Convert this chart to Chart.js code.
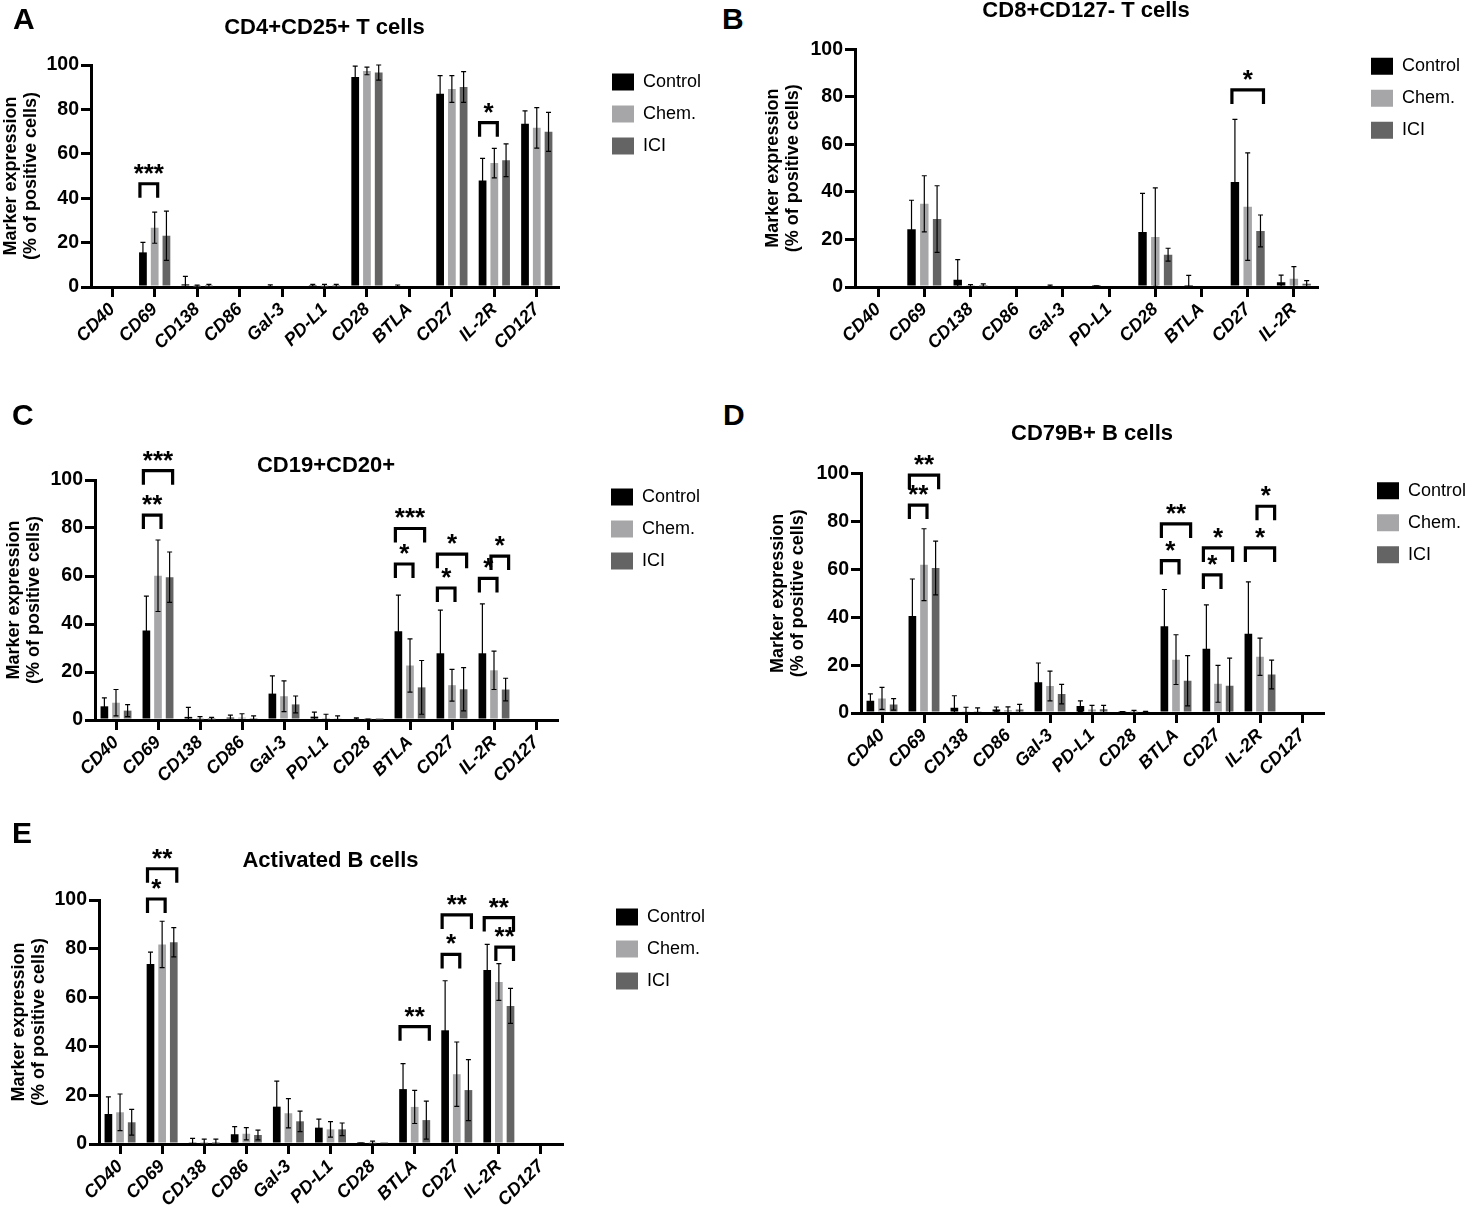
<!DOCTYPE html>
<html><head><meta charset="utf-8">
<script src="https://cdn.jsdelivr.net/npm/chart.js@4.4.1/dist/chart.umd.min.js"></script>
<style>
html,body{margin:0;padding:0;background:#fff;width:1476px;height:1209px;overflow:hidden;position:relative;font-family:'Liberation Sans',Arial,sans-serif;}
canvas{position:absolute;}
.lbl{position:absolute;font-weight:bold;font-size:30px;line-height:30px;color:#000;z-index:5;}
</style></head><body>
<div class="lbl" style="left:13px;top:4px">A</div>
<div class="lbl" style="left:722px;top:4px">B</div>
<div class="lbl" style="left:12px;top:400px">C</div>
<div class="lbl" style="left:723px;top:400px">D</div>
<div class="lbl" style="left:12px;top:818px">E</div>
<canvas id="cA"></canvas>
<canvas id="cB"></canvas>
<canvas id="cC"></canvas>
<canvas id="cD"></canvas>
<canvas id="cE"></canvas>
<script>
// ---------- data ----------
const seriesNames = ['Control', 'Chem.', 'ICI'];
const markers11 = ['CD40','CD69','CD138','CD86','Gal-3','PD-L1','CD28','BTLA','CD27','IL-2R','CD127'];
const markers10 = ['CD40','CD69','CD138','CD86','Gal-3','PD-L1','CD28','BTLA','CD27','IL-2R'];
const yTicks = [0, 20, 40, 60, 80, 100];

// Panel A: CD4+CD25+ T cells
const ctrlA = [0, 15.6, 1.2, 0, 0, 0.3, 94.6, 0, 87.1, 48, 73.5];
const chemA = [0, 26.7, 0.3, 0, 0, 0.3, 97.3, 0, 89.2, 55.8, 71.7];
const iciA  = [0, 23.1, 0.3, 0, 0, 0.3, 96.6, 0, 90.1, 57.1, 69.9];
const ctrlAErr = [0, 4.5, 3.6, 0, 1, 0.9, 4.9, 0.9, 8.1, 9.9, 5.8];
const chemAErr = [0, 7, 0.5, 0, 0, 0.9, 1.7, 0, 6, 6.6, 9.1];
const iciAErr  = [0, 11.1, 0.9, 0, 0, 0.9, 3.4, 0, 6.9, 7.4, 8.8];
const sigA = [['CD69','Control','Chem.',46.5,'***'], ['IL-2R','Control','Chem.',74,'*']];

// Panel B: CD8+CD127- T cells
const ctrlB = [0, 24.3, 3, 0, 0, 0.3, 23.1, 0.8, 44.2, 2];
const chemB = [0, 35, 0.4, 0, 0, 0, 21, 0, 33.8, 3.5];
const iciB  = [0, 28.6, 0.3, 0, 0, 0, 13.6, 0, 23.6, 1.4];
const ctrlBErr = [0, 12.2, 8.5, 0, 0.8, 0.2, 16.3, 4.1, 26.3, 3];
const chemBErr = [0, 11.8, 0.6, 0, 0, 0, 20.7, 0, 22.6, 5.1];
const iciBErr  = [0, 14, 1, 0, 0, 0, 2.7, 0, 6.7, 1.3];
const sigB = [['CD27','Control','ICI',82.9,'*']];

// Panel C: CD19+CD20+
const ctrlC = [5.7, 37.3, 1.3, 1, 11, 1.4, 0.6, 37, 27.8, 27.8, 0];
const chemC = [7.2, 60.1, 0.3, 1, 9.9, 0.8, 0.3, 22.7, 14.5, 20.7, 0];
const iciC  = [3.9, 59.5, 0.2, 0.8, 6.5, 0.7, 0.2, 13.6, 12.8, 12.7, 0];
const ctrlCErr = [3.5, 14.3, 4, 1, 7.4, 1.9, 0.3, 15, 18, 20.6, 0];
const chemCErr = [5.5, 14.9, 1.1, 1.6, 6.4, 1.6, 0.1, 11.1, 6.6, 8, 0];
const iciCErr  = [2.5, 10.5, 0.9, 0.9, 3.5, 1, 0, 11.2, 9, 4.7, 0];
const sigC = [
  ['CD69','Control','ICI',103.9,'***'], ['CD69','Control','Chem.',85.4,'**'],
  ['BTLA','Control','ICI',79.8,'***'], ['BTLA','Control','Chem.',65,'*'],
  ['CD27','Control','ICI',69.1,'*'], ['CD27','Control','Chem.',55,'*'],
  ['IL-2R','Control','Chem.',59,'*'], ['IL-2R','Chem.','ICI',68.3,'*']
];

// Panel D: CD79B+ B cells
const ctrlD = [5.1, 40.5, 2.2, 1.5, 12.8, 2.9, 0.3, 36.2, 26.8, 33.1, 0];
const chemD = [6.1, 62, 0.5, 1.2, 11.3, 1.5, 0.3, 22.3, 12.2, 23.5, 0];
const iciD  = [3.6, 60.6, 0.5, 1.5, 7.9, 1.6, 0.5, 13.5, 11.4, 16.1, 0];
const ctrlDErr = [2.9, 15.5, 5, 1, 8.1, 2.2, 0.3, 15.4, 18.4, 21.7, 0];
const chemDErr = [4.6, 15, 1.9, 1.4, 6.2, 1.7, 0.8, 10.4, 7.7, 7.8, 0];
const iciDErr  = [2.4, 11.2, 1.6, 2.1, 4.1, 1.6, 0.2, 10.5, 11.5, 6, 0];
const sigD = [
  ['CD69','Control','ICI',99.4,'**'], ['CD69','Control','Chem.',86.9,'**'],
  ['BTLA','Control','ICI',79,'**'], ['BTLA','Control','Chem.',63.7,'*'],
  ['CD27','Control','ICI',69,'*'], ['CD27','Control','Chem.',57.7,'*'],
  ['IL-2R','Control','ICI',69,'*'], ['IL-2R','Chem.','ICI',86.4,'*']
];

// Panel E: Activated B cells
const ctrlE = [12.3, 73.8, 0.5, 4, 15.3, 6.7, 0.3, 22.5, 46.6, 71.3, 0];
const chemE = [13, 81.8, 0.3, 4.2, 12.6, 6, 0.3, 15.2, 28.6, 66.4, 0];
const iciE  = [8.9, 82.7, 0.2, 3.7, 9.3, 6, 0.3, 9.8, 22.1, 56.6, 0];
const ctrlEErr = [7, 4.8, 1.8, 3.1, 10.5, 3.5, 0.1, 10.4, 20.3, 10.5, 0];
const chemEErr = [7.5, 9.5, 1.7, 2.5, 6, 3.2, 0.9, 6.8, 13.2, 7.5, 0];
const iciEErr  = [5.3, 6, 1.8, 2, 4.2, 2.6, 0, 7.8, 12.5, 7.2, 0];
const sigE = [
  ['CD69','Control','ICI',112.8,'**'], ['CD69','Control','Chem.',100.4,'*'],
  ['BTLA','Control','ICI',48.1,'**'],
  ['CD27','Control','ICI',93.9,'**'], ['CD27','Control','Chem.',77.7,'*'],
  ['IL-2R','Control','ICI',92.8,'**'], ['IL-2R','Chem.','ICI',80.7,'**']
];

// ---------- styles ----------
const seriesColors = ['#000000', '#a6a6a8', '#646464'];
const FONT = "'Liberation Sans', Arial, sans-serif";
const NARROW = "'Liberation Sans Narrow', 'Arial Narrow', 'Liberation Sans', Arial, sans-serif";
Chart.defaults.font.family = FONT;
Chart.defaults.color = '#000';

// ---------- plugins ----------
const legendPlace = {
  id: 'legendPlace',
  afterLayout(chart) {
    const lg = chart.legend; if (!lg) return;
    const ca = chart.chartArea;
    const pad = lg.options.labels.padding;
    const nl = ca.right + 54 - pad;
    const nt = ca.top + 17 - pad - 9;
    const w = lg.width, h = lg.height;
    lg.left = nl; lg.right = nl + w; lg.top = nt; lg.bottom = nt + h;
  }
};
function errorBarPlugin(errs) {
  return {
    id: 'errorBars',
    afterDatasetsDraw(chart) {
      const ctx = chart.ctx, y = chart.scales.y;
      ctx.save();
      ctx.strokeStyle = '#000'; ctx.lineWidth = 1.2;
      chart.data.datasets.forEach((ds, i) => {
        const meta = chart.getDatasetMeta(i);
        meta.data.forEach((bar, j) => {
          const v = ds.data[j], e = errs[i][j];
          if (!e) return;
          const yt = y.getPixelForValue(v + e);
          const yb = y.getPixelForValue(Math.max(0, v - e));
          ctx.beginPath();
          ctx.moveTo(bar.x, yt); ctx.lineTo(bar.x, yb);
          ctx.moveTo(bar.x - 2.5, yt); ctx.lineTo(bar.x + 2.5, yt);
          if (v - e > 0) { ctx.moveTo(bar.x - 2.5, yb); ctx.lineTo(bar.x + 2.5, yb); }
          ctx.stroke();
        });
      });
      ctx.restore();
    }
  };
}
function sigPlugin(sigs) {
  return {
    id: 'sigBrackets',
    afterDraw(chart) {
      const ctx = chart.ctx, y = chart.scales.y;
      ctx.save();
      ctx.strokeStyle = '#000'; ctx.fillStyle = '#000';
      ctx.lineWidth = 3.2; ctx.lineJoin = 'miter'; ctx.lineCap = 'butt';
      ctx.font = "bold 26px " + FONT;
      ctx.textAlign = 'center'; ctx.textBaseline = 'alphabetic';
      sigs.forEach(([cat, a, b, val, txt]) => {
        const j = chart.data.labels.indexOf(cat);
        const ia = seriesNames.indexOf(a), ib = seriesNames.indexOf(b);
        const xa = chart.getDatasetMeta(ia).data[j].x - 3;
        const xb = chart.getDatasetMeta(ib).data[j].x + 3;
        const yp = y.getPixelForValue(val);
        ctx.beginPath();
        ctx.moveTo(xa, yp + 14); ctx.lineTo(xa, yp); ctx.lineTo(xb, yp); ctx.lineTo(xb, yp + 14);
        ctx.stroke();
        ctx.fillText(txt, (xa + xb) / 2, yp - 2);
      });
      ctx.restore();
    }
  };
}

// ---------- layout ----------
const panels = [
  { id:'cA', x:1,   y:0,   w:707, h:367, yw:90, tp:14.8, tb:23.8, title:'CD4+CD25+ T cells', labels:markers11,
    values:[ctrlA, chemA, iciA], errors:[ctrlAErr, chemAErr, iciAErr], sigs:sigA },
  { id:'cB', x:763, y:-5,  w:704, h:372, yw:92, tp:2.8, tb:25.1, title:'CD8+CD127- T cells', labels:markers10,
    values:[ctrlB, chemB, iciB], errors:[ctrlBErr, chemBErr, iciBErr], sigs:sigB },
  { id:'cC', x:4,   y:440, w:703, h:360, yw:91, tp:12.8, tb:0.8, title:'CD19+CD20+', labels:markers11,
    values:[ctrlC, chemC, iciC], errors:[ctrlCErr, chemCErr, iciCErr], sigs:sigC },
  { id:'cD', x:768, y:410, w:705, h:383, yw:93, tp:10.8, tb:26.5, title:'CD79B+ B cells', labels:markers11,
    values:[ctrlD, chemD, iciD], errors:[ctrlDErr, chemDErr, iciDErr], sigs:sigD },
  { id:'cE', x:9,   y:830, w:703, h:394, yw:90, tp:17.8, tb:25.8, title:'Activated B cells', labels:markers11,
    values:[ctrlE, chemE, iciE], errors:[ctrlEErr, chemEErr, iciEErr], sigs:sigE }
];

function makeChart(p) {
  const canvas = document.getElementById(p.id);
  canvas.width = p.w; canvas.height = p.h;
  canvas.style.left = p.x + 'px'; canvas.style.top = p.y + 'px';
  canvas.style.width = p.w + 'px'; canvas.style.height = p.h + 'px';
  return new Chart(canvas, {
    type: 'bar',
    data: {
      labels: p.labels,
      datasets: seriesNames.map((n, i) => ({
        label: n, data: p.values[i], backgroundColor: seriesColors[i],
        borderWidth: 0, categoryPercentage: 0.83, barPercentage: 0.66
      }))
    },
    options: {
      responsive: false, animation: false, devicePixelRatio: 1,
      layout: { padding: { left: 0, top: 0, right: 150, bottom: 0 } },
      plugins: {
        title: { display: true, text: p.title, fullSize: false, color: '#000',
          font: { size: 22, weight: 'bold', lineHeight: 1.2 }, padding: { top: p.tp, bottom: p.tb } },
        legend: { display: true, position: 'chartArea', align: 'start',
          labels: { boxWidth: 22, boxHeight: 17, padding: 14, color: '#000', font: { size: 18 } } },
        tooltip: { enabled: false }
      },
      scales: {
        x: {
          offset: true,
          grid: { display: true, drawOnChartArea: false, drawTicks: true, tickLength: 10,
            lineWidth: 3, tickWidth: 3, color: '#000', tickColor: '#000', offset: false },
          border: { display: true, color: '#000', width: 3 },
          ticks: { color: '#000', autoSkip: false, minRotation: 45, maxRotation: 45, padding: 2,
            font: { family: NARROW, size: 18, weight: 'bold', style: 'italic' } },
          afterFit: s => { s.height = 80; }
        },
        y: {
          min: 0, max: 100,
          afterBuildTicks: s => { s.ticks = yTicks.map(v => ({ value: v })); },
          grid: { display: true, drawOnChartArea: false, drawTicks: true, tickLength: 10,
            lineWidth: 3, tickWidth: 3, color: '#000', tickColor: '#000' },
          border: { display: true, color: '#000', width: 3 },
          ticks: { color: '#000', padding: 2, font: { family: NARROW, size: 19.5, weight: 'bold' } },
          title: { display: true, text: ['Marker expression', '(% of positive cells)'], color: '#000',
            font: { size: 18, weight: 'bold', lineHeight: 1.1 }, padding: 0 },
          afterFit: s => { s.width = p.yw; }
        }
      }
    },
    plugins: [legendPlace, errorBarPlugin(p.errors), sigPlugin(p.sigs)]
  });
}
panels.forEach(makeChart);
</script>
</body></html>
